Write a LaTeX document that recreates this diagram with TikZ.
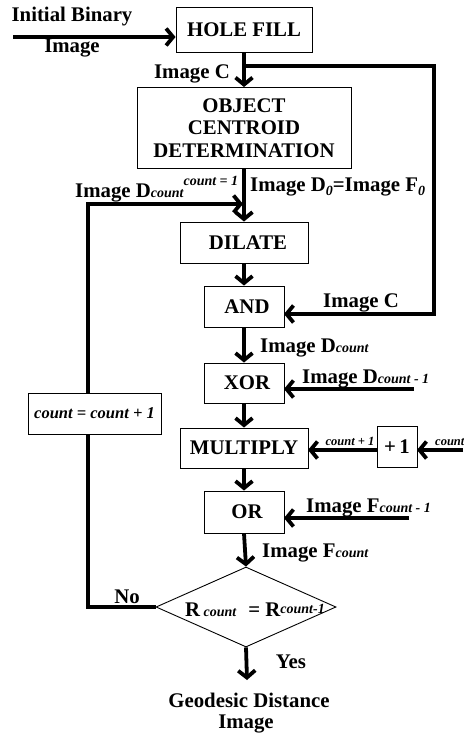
\documentclass[tikz,border=0pt]{standalone}
\usepackage{fontspec}
\setmainfont{Liberation Serif}
\usetikzlibrary{arrows.meta,shapes.geometric}
\newcommand\cnts[1]{{\fontsize{14}{14}\selectfont\itshape #1}}
\newcommand\cntx[1]{{\fontsize{12.5}{13}\selectfont\itshape #1}}
\begin{document}
\begin{tikzpicture}[x=1pt,y=-1pt,
  font=\fontsize{20.8}{23}\selectfont\bfseries,
  box/.style={draw, line width=0.9pt, inner sep=0pt, rectangle, align=center},
  ln/.style={line width=3.8pt},
  arr/.style={line width=3.8pt, -{Straight Barb[length=7pt,width=17pt]}},
  lbl/.style={inner sep=0pt}]
\useasboundingbox (0,0) rectangle (463,735);
% boxes
\node[box, minimum width=136pt, minimum height=45pt] (hole) at (244,29.5) {HOLE FILL};
\node[box, minimum width=214pt, minimum height=81pt, font=\fontsize{20.8}{22.5}\selectfont\bfseries] (obj) at (244,128) {OBJECT\\CENTROID\\DETERMINATION};
\node[box, minimum width=128pt, minimum height=41pt] (dil) at (244,242.5) {\hspace{8pt}DILATE};
\node[box, minimum width=80pt, minimum height=41pt] (and) at (244,306.5) {\raisebox{-5pt}{\hspace{6pt}AND}};
\node[box, minimum width=80pt, minimum height=40pt] (xor) at (244,383) {\hspace{6pt}XOR};
\node[box, minimum width=128pt, minimum height=40pt] (mul) at (244,448) {MULTIPLY};
\node[box, minimum width=40pt, minimum height=41pt] (plus) at (397,446.5) {+\,1};
\node[box, minimum width=80pt, minimum height=42pt] (or) at (244,512) {\raisebox{-3pt}{\hspace{6pt}OR}};
\node[box, minimum width=133pt, minimum height=41pt, font=\fontsize{16.5}{18}\selectfont\bfseries\itshape] (cnt) at (94.5,413.5) {count = count + 1};
\node[draw, line width=0.9pt, diamond, inner sep=0pt, minimum width=180pt, minimum height=80pt] (dia) at (246,607) {};
% coordinates
\coordinate (inp) at (13,37);
\coordinate (c1) at (243,66);
\coordinate (c2) at (434,66);
\coordinate (c3) at (434,314);
\coordinate (c4) at (284,314);
\coordinate (l1) at (88,204);
\coordinate (l2) at (243,204);
\coordinate (l3) at (88,607);
\coordinate (x1) at (414,389);
\coordinate (x2) at (284,389);
\coordinate (m1) at (308,450);
\coordinate (p1) at (377,450);
\coordinate (p2) at (417,450);
\coordinate (p3) at (463,450);
\coordinate (o1) at (409,518);
\coordinate (o2) at (284,518);
\coordinate (yend) at (247,680);
% connectors
\draw[arr] (inp) -- (hole.west |- inp);
\draw[arr] (hole.south) -- (obj.north);
\draw[arr] (c1) -- (c2) -- (c3) -- (c4);
\draw[arr] (obj.south) -- (dil.north);
\draw[arr] (cnt.north -| l1) -- (l1) -- (l2);
\draw[ln] (cnt.south -| l3) -- (l3) -- (dia.west);
\draw[arr] (dil.south) -- (and.north);
\draw[arr] (and.south) -- (xor.north);
\draw[arr] (xor.south) -- (mul.north);
\draw[arr] (mul.south) -- (or.north);
\draw[arr] (or.south) -- (dia.north);
\draw[arr] (x1) -- (x2);
\draw[arr] (p1) -- (m1);
\draw[arr] (p3) -- (p2);
\draw[arr] (o1) -- (o2);
\draw[arr] (dia.south) -- (yend);
% labels
\node[lbl] (t1) at (72,17) {Initial Binary};
\node[lbl] (t2) at (72,48) {Image};
\node[lbl, anchor=east] (t3) at (230,74) {Image C};
\node[lbl, anchor=base west] (t4) at (75,198) {Image D\cnts{count}\raisebox{12pt}{\cnts{count = 1}}};
\node[lbl, anchor=base west] (t5) at (250,192) {Image D\raisebox{-4pt}{\cnts{0}}=Image F\raisebox{-4pt}{\cnts{0}}};
\node[lbl, anchor=base west] (t6) at (323,307) {Image C};
\node[lbl, anchor=base west] (t7) at (260,352) {Image D\cnts{count}};
\node[lbl, anchor=base west] (t8) at (302,383) {Image D\cnts{count - 1}};
\node[lbl, anchor=base] (t9) at (350,445) {\cntx{count + 1}};
\node[lbl, anchor=base west] (t10) at (435,445) {\cntx{count}};
\node[lbl, anchor=base west] (t11) at (306,512) {Image F\cnts{count - 1}};
\node[lbl, anchor=base west] (t12) at (262,557) {Image F\cnts{count}};
\node[lbl, anchor=base] (t13) at (127,603) {No};
\node[lbl, anchor=base west] (t14) at (185,616) {R\,\cnts{count}\hspace{12pt}= R\raisebox{3pt}{\cnts{count-1}}};
\node[lbl, anchor=base] (t15) at (291,668) {Yes};
\node[lbl, anchor=base] (t16) at (249,707) {Geodesic Distance};
\node[lbl, anchor=base] (t17) at (246,728) {Image};
\end{tikzpicture}
\end{document}
